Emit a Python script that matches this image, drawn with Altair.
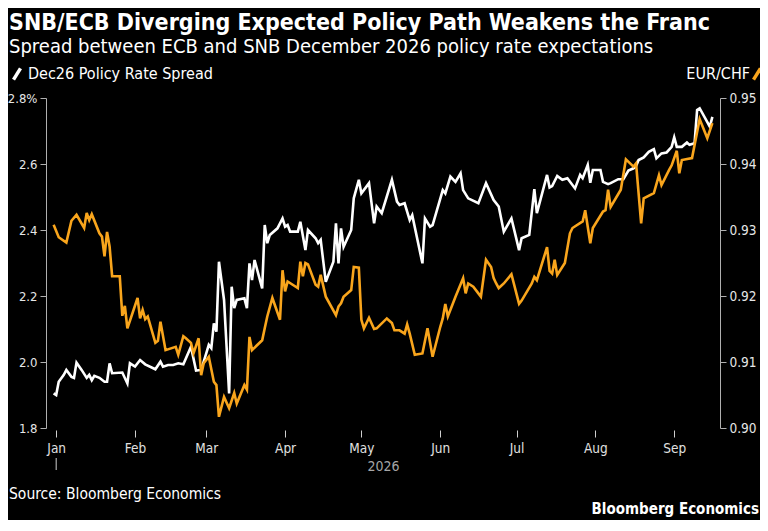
import altair as alt
import pandas as pd

# ---- data (days since 2026-01-01, values) ----
spread_days = [-1, 0, 1, 3, 4, 6, 7, 8, 10, 12, 13, 14, 15, 17, 19, 20, 21, 22, 26, 28, 29, 31, 33, 35, 39, 41, 42,
               44, 46, 48, 50, 53, 55, 57, 59, 60, 61, 62, 63, 64, 66, 68, 69, 70, 71, 74, 75, 76, 77, 78, 81, 82,
               83, 84, 87, 89, 90, 91, 92, 95, 96, 98, 99, 102, 103, 104, 106, 109, 110, 111, 112, 113, 116, 117,
               119, 120, 123, 125, 126, 128, 132, 134, 135, 137, 139, 140, 144, 145, 147, 148, 152, 153, 155, 157,
               159, 160, 162, 166, 169, 172, 174, 176, 179, 182, 183, 186, 188, 189, 193, 194, 195, 197, 199, 201,
               204, 206, 207, 209, 210, 211, 214, 215, 217, 218, 221, 223, 225, 227, 228, 229, 231, 233, 235, 236,
               238, 240, 242, 243, 244, 246, 248, 249, 251, 252, 253, 257, 258]
spread_vals = [1.905, 1.900, 1.940, 1.961, 1.976, 1.955, 1.952, 1.998, 1.976, 1.952, 1.961, 1.945, 1.958, 1.952,
               1.940, 1.940, 1.996, 1.966, 1.968, 1.935, 1.996, 1.986, 2.006, 1.993, 1.978, 2.001, 1.986, 1.991,
               1.991, 1.996, 1.993, 2.046, 1.974, 1.976, 2.026, 2.052, 2.042, 2.117, 2.092, 2.304, 2.188, 1.905,
               2.228, 2.163, 2.188, 2.193, 2.163, 2.299, 2.248, 2.309, 2.223, 2.415, 2.360, 2.385, 2.405, 2.435,
               2.410, 2.415, 2.395, 2.395, 2.425, 2.339, 2.400, 2.375, 2.360, 2.370, 2.243, 2.304, 2.420, 2.299,
               2.405, 2.349, 2.400, 2.496, 2.552, 2.511, 2.542, 2.420, 2.471, 2.451, 2.552, 2.486, 2.476, 2.481,
               2.430, 2.445, 2.299, 2.435, 2.410, 2.415, 2.521, 2.511, 2.562, 2.546, 2.572, 2.521, 2.496, 2.481,
               2.542, 2.491, 2.471, 2.395, 2.435, 2.339, 2.375, 2.385, 2.524, 2.451, 2.567, 2.529, 2.533, 2.564,
               2.552, 2.557, 2.526, 2.567, 2.557, 2.597, 2.543, 2.582, 2.582, 2.546, 2.539, 2.542, 2.554, 2.554,
               2.580, 2.587, 2.594, 2.612, 2.620, 2.637, 2.645, 2.617, 2.632, 2.635, 2.652, 2.681, 2.652, 2.652,
               2.665, 2.658, 2.663, 2.764, 2.769, 2.713, 2.743]

fx_days = [-1, 1, 4, 6, 8, 11, 12, 13, 14, 17, 18, 19, 20, 21, 22, 25, 26, 27, 28, 32, 33, 34, 35, 36, 39, 40, 41,
           43, 47, 48, 50, 51, 53, 54, 56, 57, 58, 60, 62, 63, 64, 66, 68, 70, 71, 74, 75, 76, 77, 81, 82, 83, 85,
           88, 89, 90, 91, 95, 96, 97, 98, 99, 102, 103, 104, 106, 110, 111, 112, 113, 116, 117, 119, 120, 121,
           123, 125, 126, 130, 132, 133, 135, 137, 138, 139, 141, 144, 146, 148, 151, 152, 153, 154, 157, 160,
           161, 162, 164, 166, 167, 169, 171, 172, 173, 174, 176, 179, 182, 183, 187, 188, 189, 193, 194, 195,
           196, 197, 200, 202, 203, 207, 208, 210, 211, 215, 216, 217, 218, 222, 224, 227, 228, 230, 231, 235,
           237, 238, 241, 242, 244, 245, 246, 250, 253, 256, 258]
fx_vals = [0.9308, 0.9289, 0.9281, 0.9314, 0.9323, 0.9303, 0.9326, 0.9315, 0.9324, 0.9295, 0.9290, 0.9260,
           0.9297, 0.9275, 0.9230, 0.9230, 0.9170, 0.9185, 0.9151, 0.9197, 0.9166, 0.9179, 0.9165, 0.9169,
           0.9129, 0.9132, 0.9161, 0.9118, 0.9123, 0.9111, 0.9139, 0.9136, 0.9129, 0.9113, 0.9136, 0.9080,
           0.9098, 0.9108, 0.9070, 0.9065, 0.9017, 0.9047, 0.9030, 0.9053, 0.9037, 0.9065, 0.9058, 0.9138,
           0.9118, 0.9133, 0.9151, 0.9169, 0.9197, 0.9164, 0.9239, 0.9207, 0.9222, 0.9212, 0.9252, 0.9230,
           0.9250, 0.9248, 0.9217, 0.9214, 0.9232, 0.9199, 0.9171, 0.9184, 0.9189, 0.9199, 0.9209, 0.9244,
           0.9243, 0.9164, 0.9151, 0.9167, 0.9150, 0.9151, 0.9166, 0.9159, 0.9148, 0.9148, 0.9143, 0.9157,
           0.9143, 0.9111, 0.9113, 0.9151, 0.9108, 0.9153, 0.9166, 0.9188, 0.9169, 0.9199, 0.9227, 0.9204,
           0.9219, 0.9214, 0.9204, 0.9199, 0.9255, 0.9244, 0.9227, 0.9219, 0.9212, 0.9219, 0.9233, 0.9188,
           0.9193, 0.9219, 0.9229, 0.9224, 0.9274, 0.9238, 0.9234, 0.9255, 0.9232, 0.9250, 0.9295, 0.9303,
           0.9313, 0.9330, 0.9280, 0.9303, 0.9328, 0.9330, 0.9361, 0.9335, 0.9361, 0.9407, 0.9396, 0.9401,
           0.9310, 0.9348, 0.9356, 0.9383, 0.9368, 0.9391, 0.9398, 0.9420, 0.9386, 0.9406, 0.9409, 0.9468,
           0.9439, 0.9462]

left_ticks = [1.8, 2.0, 2.2, 2.4, 2.6, 2.8]
right_ticks = [0.90, 0.91, 0.92, 0.93, 0.94, 0.95]
series_names = ["Dec26 Policy Rate Spread", "EUR/CHF"]
title_text = "SNB/ECB Diverging Expected Policy Path Weakens the Franc"
subtitle_text = "Spread between ECB and SNB December 2026 policy rate expectations"
source_text = "Source: Bloomberg Economics"
brand_text = "Bloomberg Economics"
year_label = "2026"

FONT = "DejaVu Sans Condensed"
ORANGE = "#F9A51C"
W, H = 674, 330
PL, PT, PR, PB = 38, 90, 40, 92

start = pd.Timestamp("2026-01-01")
df_spread = pd.DataFrame({"date": start + pd.to_timedelta(spread_days, unit="D"),
                          "value": spread_vals, "series": series_names[0]})
df_fx = pd.DataFrame({"date": start + pd.to_timedelta(fx_days, unit="D"),
                      "value": fx_vals, "series": series_names[1]})
df_jan = pd.DataFrame({"date": [start]})
df_source = pd.DataFrame({"t": [source_text]})
df_brand = pd.DataFrame({"t": [brand_text]})

xscale = alt.Scale(domain=[alt.DateTime(year=2025, month=12, date=28),
                           alt.DateTime(year=2026, month=9, date=19)])
month_vals = [alt.DateTime(year=2026, month=m, date=1) for m in range(1, 10)]
xaxis = alt.Axis(values=month_vals, format="%b", title=year_label, domain=False, grid=False,
                 tickColor="#cfcfcf", tickSize=7, offset=2, labelPadding=4, labelFontSize=13.5,
                 labelColor="#e0e0e0", labelFont=FONT, titleColor="#a6a6a6", titleFont=FONT,
                 titleFontSize=14, titleFontWeight="normal", titleY=36, titleBaseline="middle")
x_enc = alt.X("date:T", scale=xscale, axis=xaxis)

slash = "M-0.5,0.8L0.5,-0.8"

spread_line = alt.Chart(df_spread).mark_line(strokeWidth=2.6).encode(
    x=x_enc,
    y=alt.Y("value:Q", scale=alt.Scale(domain=[1.8, 2.8], nice=False, zero=False),
            axis=alt.Axis(orient="left", values=left_ticks, title=None, grid=False,
                          labelExpr="datum.value == 2.8 ? '2.8%' : format(datum.value, '.1f')",
                          domainColor="#b0b0b0", tickColor="#b0b0b0", tickSize=6, labelPadding=3,
                          labelFontSize=13, labelColor="#e6e6e6", labelFont=FONT)),
    color=alt.Color("series:N", scale=alt.Scale(domain=[series_names[0]], range=["#ffffff"]),
                    legend=alt.Legend(orient="none", legendX=-38, legendY=-33, title=None, padding=0,
                                      symbolType=slash, symbolSize=196, symbolStrokeWidth=3.5,
                                      labelFontSize=16, labelColor="#ffffff", labelFont=FONT,
                                      labelOffset=2, labelLimit=400)),
)

fx_line = alt.Chart(df_fx).mark_line(strokeWidth=2.6).encode(
    x=x_enc,
    y=alt.Y("value:Q", scale=alt.Scale(domain=[0.90, 0.95], nice=False, zero=False),
            axis=alt.Axis(orient="right", values=right_ticks, format=".2f", title=None, grid=False,
                          domainColor="#b0b0b0", tickColor="#b0b0b0", tickSize=6, labelPadding=3,
                          labelFontSize=13.5, labelColor="#e6e6e6", labelFont=FONT)),
    color=alt.Color("series:N", scale=alt.Scale(domain=[series_names[1]], range=[ORANGE]),
                    legend=alt.Legend(orient="none", legendX=702, legendY=-33, title=None, padding=0,
                                      symbolType=slash, symbolSize=196, symbolStrokeWidth=3.5,
                                      labelFontSize=16, labelColor="#ffffff", labelFont=FONT,
                                      labelAlign="right", labelOffset={"expr": "-16"}, labelLimit=400)),
)

jan_mark = alt.Chart(df_jan).mark_rule(color="#cfcfcf", strokeWidth=1).encode(
    x=alt.X("date:T", scale=xscale),
    y=alt.value(H + 30), y2=alt.value(H + 42),
)

source = alt.Chart(df_source).mark_text(align="left", baseline="middle", font=FONT, fontSize=15.5,
                                         color="#ffffff").encode(
    text="t:N", x=alt.value(-37), y=alt.value(H + 66))
brand = alt.Chart(df_brand).mark_text(align="right", baseline="middle", font=FONT, fontSize=15,
                                       fontWeight="bold", color="#ffffff").encode(
    text="t:N", x=alt.value(W + 39), y=alt.value(H + 81))

chart = alt.layer(spread_line, fx_line, jan_mark, source, brand).resolve_scale(
    y="independent", color="independent"
).properties(
    width=W, height=H,
    padding={"left": PL, "top": PT, "right": PR, "bottom": PB},
    autosize=alt.AutoSizeParams(type="none"),
    title=alt.TitleParams(text=title_text, subtitle=subtitle_text, anchor="start", frame="group",
                          dx=-37, offset=8, font=FONT, fontSize=23, fontWeight="bold", color="#ffffff",
                          subtitleFont=FONT, subtitleFontSize=20, subtitleColor="#ffffff",
                          subtitlePadding=2),
).configure(background="#000000", font=FONT).configure_view(stroke=None)

chart.save("out.html", embed_options={"renderer": "svg", "actions": False})
